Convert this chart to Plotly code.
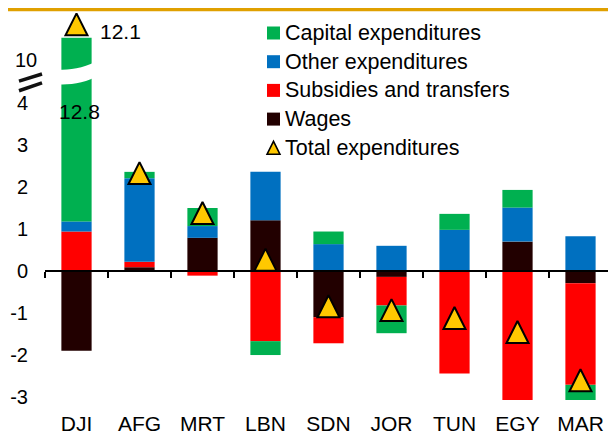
# Government expenditure changes by component, with a broken y-axis for DJI
import plotly.graph_objects as go

# ------------------------------------------------------------
# DATA
# ------------------------------------------------------------
countries = ["DJI", "AFG", "MRT", "LBN", "SDN", "JOR", "TUN", "EGY", "MAR"]

wages      = [-1.90, 0.09, 0.79, 1.21, -1.10, -0.14, 0.00, 0.70, -0.29]
subsidies  = [0.94, 0.13, -0.11, -1.67, -0.62, -0.68, -2.44, -3.40, -2.42]
other      = [0.24, 1.99, 0.28, 1.15, 0.64, 0.60, 0.98, 0.81, 0.83]
capital    = [12.80, 0.15, 0.43, -0.33, 0.30, -0.66, 0.38, 0.42, -0.70]
totals     = [12.1, 2.33, 1.38, 0.27, -0.84, -0.93, -1.12, -1.45, -2.60]

y_ticks = [-3, -2, -1, 0, 1, 2, 3, 4]

# Colours
COLOR_CAPITAL   = "#00B050"
COLOR_OTHER     = "#0070C0"
COLOR_SUBSIDIES = "#FF0000"
COLOR_WAGES     = "#220000"
COLOR_TOTAL     = "#FFC800"
COLOR_RULE      = "#E0A000"
FONT            = "Liberation Sans, Arial, sans-serif"

# Layout geometry (the page body adds an 8px margin, so the figure is 8px smaller)
W, H = 608, 427
MARGIN = dict(l=37, r=4, t=0, b=35)
Y_RANGE = [-3.07, 6.26]
PX_PER_UNIT = (H - MARGIN["t"] - MARGIN["b"]) / (Y_RANGE[1] - Y_RANGE[0])
PLOT_W = W - MARGIN["l"] - MARGIN["r"]
PLOT_H = H - MARGIN["t"] - MARGIN["b"]

# Axis break: linear up to BREAK_LOW, compressed scale from 10 upwards
BREAK_LOW   = 4.5
UPPER_BASE  = 5.02   # display position of 10
UPPER_SCALE = 0.405  # display units per data unit above 10
BAR_CAP     = 5.55   # bars that run past the break are cut here
MARKER_SIZE = 22


def to_display(v):
    """Map a data value onto the broken axis."""
    if v <= BREAK_LOW:
        return v
    return UPPER_BASE + (v - 10) * UPPER_SCALE


def bar_top(v):
    return min(to_display(v), BAR_CAP)


def stacked_display(series_list):
    """Convert stacked segments into display heights, respecting the break."""
    out = [[] for _ in series_list]
    for i in range(len(countries)):
        pos = 0.0
        for k, s in enumerate(series_list):
            v = s[i]
            if v >= 0:
                out[k].append(bar_top(pos + v) - bar_top(pos))
                pos += v
            else:
                out[k].append(v)
    return out


def px(fx, fy):
    """Figure pixel position -> paper coordinates."""
    return (fx - MARGIN["l"]) / PLOT_W, 1 - (fy - MARGIN["t"]) / PLOT_H


stack_order = [
    ("Wages", wages, COLOR_WAGES),
    ("Subsidies and transfers", subsidies, COLOR_SUBSIDIES),
    ("Other expenditures", other, COLOR_OTHER),
    ("Capital expenditures", capital, COLOR_CAPITAL),
]
display_vals = stacked_display([s[1] for s in stack_order])

fig = go.Figure()

for (name, _, color), vals in zip(stack_order, display_vals):
    fig.add_trace(go.Bar(
        x=countries, y=vals, name=name,
        marker=dict(color=color, line=dict(width=0)),
        hoverinfo="skip"
    ))

# Triangles: arrow-up has its tip at the point, so shift by half the height
shift = (MARKER_SIZE / 2) / PX_PER_UNIT
fig.add_trace(go.Scatter(
    x=countries, y=[to_display(t) + shift for t in totals],
    xaxis="x2", mode="markers", name="Total expenditures", cliponaxis=False,
    marker=dict(symbol="arrow-up", size=MARKER_SIZE, color=COLOR_TOTAL,
                line=dict(color="black", width=2)),
    customdata=totals, hovertemplate="%{x}: %{customdata}<extra></extra>"
))

zero_pos = (0 - Y_RANGE[0]) / (Y_RANGE[1] - Y_RANGE[0])

fig.update_layout(
    width=W, height=H, margin=MARGIN,
    barmode="relative", bargap=0.52,
    paper_bgcolor="white", plot_bgcolor="white",
    font=dict(family=FONT, size=21, color="black"),
    xaxis=dict(
        type="category", categoryorder="array", categoryarray=countries,
        range=[-0.5, len(countries) - 0.5],
        showline=False, showgrid=False, zeroline=False, ticks="",
        tickfont=dict(size=21), ticklabelstandoff=9
    ),
    xaxis2=dict(
        type="category", categoryorder="array", categoryarray=countries,
        range=[-0.5, len(countries) - 0.5],
        overlaying="x", anchor="free", position=zero_pos, side="bottom",
        showline=True, linecolor="black", linewidth=2,
        ticks="outside", tickson="boundaries", ticklen=6, tickwidth=1.5,
        tickcolor="black", showticklabels=False, showgrid=False, zeroline=False
    ),
    yaxis=dict(
        range=Y_RANGE, tickvals=y_ticks, ticktext=[str(t) for t in y_ticks],
        showline=False, showgrid=False, zeroline=False, ticks="",
        tickfont=dict(size=20), ticklabelstandoff=16
    ),
    showlegend=False
)

# ------------------------------------------------------------
# LEGEND (drawn by hand to match the tight row spacing)
# ------------------------------------------------------------
LEG_SYMBOL_X = 259
LEG_TEXT_X   = 275
LEG_Y0       = 25
LEG_STEP     = 28.7
LEG_BOX      = 13

legend_rows = [(s[0], s[2]) for s in reversed(stack_order)] + [("Total expenditures", None)]
for i, (name, color) in enumerate(legend_rows):
    cy = LEG_Y0 + i * LEG_STEP
    tx, ty = px(LEG_TEXT_X, cy)
    fig.add_annotation(xref="paper", yref="paper", x=tx, y=ty, text=name,
                       showarrow=False, xanchor="left", yanchor="middle",
                       font=dict(size=21.5))
    x0, y0 = px(LEG_SYMBOL_X, cy - LEG_BOX / 2)
    x1, y1 = px(LEG_SYMBOL_X + LEG_BOX, cy + LEG_BOX / 2)
    if color:
        fig.add_shape(type="rect", xref="paper", yref="paper",
                      x0=x0, x1=x1, y0=y0, y1=y1,
                      fillcolor=color, line=dict(width=0))
    else:
        xm = (x0 + x1) / 2
        fig.add_shape(type="path", xref="paper", yref="paper",
                      path=f"M {x0},{y1} L {x1},{y1} L {xm},{y0} Z",
                      fillcolor=COLOR_TOTAL, line=dict(color="black", width=1.5))

# Labels for the broken DJI bar
fig.add_annotation(x="DJI", y=to_display(totals[0]), text="12.1", showarrow=False,
                   xanchor="left", xshift=21, yshift=-7, font=dict(size=21))
fig.add_annotation(x="DJI", y=3.79, text="12.8", showarrow=False,
                   xshift=3, font=dict(size=21))
fig.add_annotation(xref="paper", x=px(31, 0)[0], y=to_display(10), text="10",
                   showarrow=False, xanchor="right", font=dict(size=20))

# White wavy gap across the DJI bar
fig.add_shape(type="path", xref="x", yref="y", layer="above",
              path="M -0.3,4.79 C -0.1,4.79 0.1,4.82 0.3,4.98 "
                   "L 0.3,4.62 C 0.1,4.46 -0.1,4.44 -0.3,4.44 Z",
              fillcolor="white", line=dict(width=0))

# Break marks on the y-axis
for y0, y1 in [(4.52, 4.69), (4.29, 4.48)]:
    fig.add_shape(type="line", xref="paper", yref="y",
                  x0=px(11, 0)[0], x1=px(34, 0)[0], y0=y0, y1=y1,
                  line=dict(color="#111111", width=3.5))

# Orange rule across the top
fig.add_shape(type="line", xref="paper", yref="paper",
              x0=-0.1, x1=1.1, y0=px(0, 1.5)[1], y1=px(0, 1.5)[1],
              line=dict(color=COLOR_RULE, width=3.5))

fig.write_html("out.html")
